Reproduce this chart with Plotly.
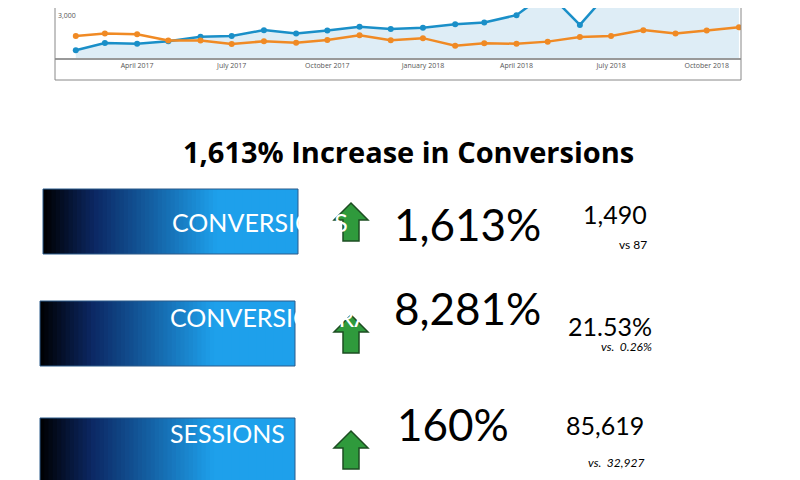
import plotly.graph_objects as go
import pandas as pd

months = pd.date_range("2017-02-01", "2018-11-01", freq="MS")
blue = [537,1049,1000,1171,1488,1537,1951,1707,1927,2195,2024,2122,2366,2488,3000,4600,2317,4800,5000,5100,5200,5400]
orange = [1537,1707,1659,1220,1220,976,1171,1073,1268,1585,1244,1390,854,1024,1000,1146,1463,1537,1951,1707,1927,2146]
tick_vals = ["2017-04-01","2017-07-01","2017-10-01","2018-01-01","2018-04-01","2018-07-01","2018-10-01"]
tick_text = ["April 2017","July 2017","October 2017","January 2018","April 2018","July 2018","October 2018"]

title = "1,613% Increase in Conversions"
labels = ["CONVERSIONS", "CONVERSION RATE", "SESSIONS"]
pcts = ["1,613%", "8,281%", "160%"]
values = ["1,490", "21.53%", "85,619"]
prev = ["vs 87", "vs.  0.26%", "vs.  32,927"]
prev_italic = [False, True, True]

W, H = 800, 480
def px(x): return x / W
def py(y): return 1 - y / H

fig = go.Figure()
fig.add_trace(go.Scatter(x=months, y=blue, mode="lines+markers", fill="tozeroy",
    fillcolor="rgba(200,225,240,0.6)", line=dict(color="#1a8fc8", width=2.5),
    marker=dict(size=6, color="#1a8fc8"), cliponaxis=True))
fig.add_trace(go.Scatter(x=months, y=orange, mode="lines+markers",
    line=dict(color="#f08a24", width=2.5), marker=dict(size=6, color="#f08a24"), cliponaxis=True))

fig.update_layout(
    width=W, height=H, margin=dict(l=0, r=0, t=0, b=0, autoexpand=False), showlegend=False,
    paper_bgcolor="white", plot_bgcolor="white",
    xaxis=dict(domain=[px(47), px(733)], range=["2017-01-12", "2018-11-03"], type="date",
               tickvals=tick_vals, ticktext=tick_text, tickfont=dict(size=7, color="#555"),
               showgrid=False, showline=True, linecolor="#999", linewidth=2, ticks=""),
    yaxis=dict(domain=[py(50), 1], range=[0, 3500], showgrid=False, tickvals=[3000],
               ticktext=["3,000"], ticklabelposition="inside", tickfont=dict(size=7, color="#555"),
               zeroline=False, showline=False),
)

shapes = [dict(type="rect", xref="paper", yref="paper", x0=px(47), x1=px(733), y0=py(72), y1=py(-5),
               line=dict(color="#888", width=1), fillcolor="rgba(0,0,0,0)", layer="above")]

boxes = [(35, 290, 181, 246), (32, 287, 293, 358), (32, 287, 410, 475)]
rows_y = [214, 326, 442]
N = 60
def grad(t):
    s = min(t / 0.68, 1.0)
    m = (12, 40, 100); c1 = (30, 160, 235)
    if s < 0.3:
        u = s / 0.3
        c = tuple(int(m[i] * u) for i in range(3))
    else:
        u = (s - 0.3) / 0.7
        c = tuple(int(m[i] + (c1[i] - m[i]) * u) for i in range(3))
    return "rgb(%d,%d,%d)" % c

for (x0, x1, y0, y1) in boxes:
    w = (x1 - x0) / N
    for k in range(N):
        shapes.append(dict(type="rect", xref="paper", yref="paper",
                           x0=px(x0 + k * w), x1=px(min(x0 + (k + 1) * w + 1.5, x1)), y0=py(y1), y1=py(y0),
                           line=dict(width=0), fillcolor=grad((k + 0.5) / N)))
    shapes.append(dict(type="rect", xref="paper", yref="paper", x0=px(x0), x1=px(x1), y0=py(y1), y1=py(y0),
                       line=dict(color="#2a5a8a", width=1), fillcolor="rgba(0,0,0,0)"))

for cy in rows_y:
    cx = 343
    pts = [(cx, cy - 19), (cx + 17, cy - 2), (cx + 8, cy - 2), (cx + 8, cy + 19),
           (cx - 8, cy + 19), (cx - 8, cy - 2), (cx - 17, cy - 2)]
    path = "M " + " L ".join("%f,%f" % (px(x), py(y)) for x, y in pts) + " Z"
    shapes.append(dict(type="path", xref="paper", yref="paper", path=path,
                       fillcolor="#2f9a3c", line=dict(color="#1d4d22", width=1.5)))
fig.update_layout(shapes=shapes)

ann = [dict(text="<b>%s</b>" % title, x=px(400), y=py(122), xref="paper", yref="paper",
            showarrow=False, font=dict(family="Open Sans", size=29, color="black"))]
label_x = [162, 160, 160]
pct_x = [460, 460, 445]
val_x = [641, 646, 638]
for i in range(3):
    cy = rows_y[i]
    ann.append(dict(text=labels[i], x=px(label_x[i]), y=py(cy), xref="paper", yref="paper",
                    showarrow=False, font=dict(family="Lato", size=25, color="white")))
    ann.append(dict(text=pcts[i], x=px(pct_x[i]), y=py(cy + 2), xref="paper", yref="paper",
                    showarrow=False, font=dict(family="Lato", size=44, color="black")))
    ann.append(dict(text=values[i], x=px(val_x[i]), y=py(cy - 8), xref="paper", yref="paper",
                    showarrow=False, font=dict(family="Lato", size=25, color="black")))
    t = "<i>%s</i>" % prev[i] if prev_italic[i] else prev[i]
    ann.append(dict(text=t, x=px(val_x[i]), y=py(cy + 22), xref="paper", yref="paper",
                    showarrow=False, font=dict(family="Lato", size=12, color="black")))
fig.update_layout(annotations=ann)
fig.write_html("out.html")
